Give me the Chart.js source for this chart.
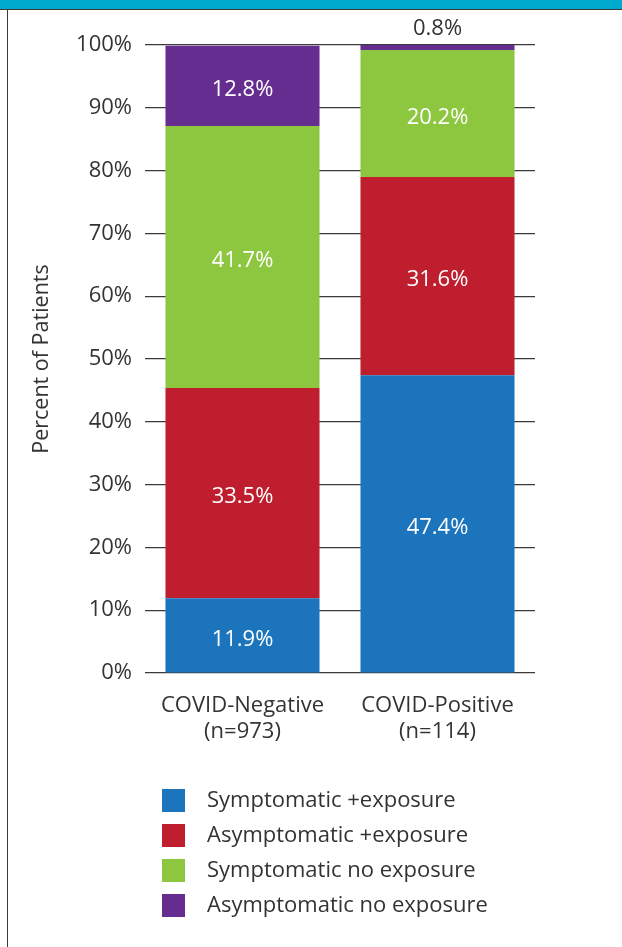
<!DOCTYPE html>
<html>
<head>
<meta charset="utf-8">
<script src="https://cdn.jsdelivr.net/npm/chart.js@4/dist/chart.umd.min.js"></script>
<style>
  html, body { margin: 0; padding: 0; background: #fff; }
  #wrap { position: relative; width: 622px; height: 947px; overflow: hidden; }
  #band { position: absolute; left: 0; top: 0; width: 622px; height: 9px; background: #00a9ce; border-bottom: 1px solid #3a3a3a; }
  #frame { position: absolute; left: 7px; top: 9px; width: 0; height: 938px; border-left: 1.5px solid #3a3a3a; }
  canvas { position: absolute; left: 0; top: 0; }
</style>
</head>
<body>
<div id="wrap">
  <canvas id="c" width="622" height="947"></canvas>
  <div id="band"></div>
  <div id="frame"></div>
</div>
<script>
// Groups and their sample sizes
const groups = [['COVID-Negative', '(n=973)'], ['COVID-Positive', '(n=114)']];

// Share of patients in each group (%)
const symptomaticExposure = [11.9, 47.4];
const asymptomaticExposure = [33.5, 31.6];
const symptomaticNoExposure = [41.7, 20.2];
const asymptomaticNoExposure = [12.8, 0.8];

const seriesNames = ['Symptomatic +exposure', 'Asymptomatic +exposure', 'Symptomatic no exposure', 'Asymptomatic no exposure'];
const seriesColors = ['#1c75bc', '#be1e2d', '#8dc63f', '#662d91'];
const seriesValues = [symptomaticExposure, asymptomaticExposure, symptomaticNoExposure, asymptomaticNoExposure];

const TEXT = '#333333';
const FONT = "'Open Sans', 'DejaVu Sans', sans-serif";

// Percent labels inside each segment; thin segments get the label above the bar
const segmentLabels = {
  id: 'segmentLabels',
  afterDatasetsDraw(chart) {
    const ctx = chart.ctx;
    ctx.save();
    ctx.font = '22px ' + FONT;
    ctx.textAlign = 'center';
    ctx.textBaseline = 'middle';
    chart.data.datasets.forEach((ds, di) => {
      const meta = chart.getDatasetMeta(di);
      meta.data.forEach((bar, i) => {
        const v = ds.data[i];
        const h = Math.abs(bar.base - bar.y);
        const txt = v.toFixed(1) + '%';
        if (h > 26) {
          ctx.fillStyle = '#ffffff';
          ctx.fillText(txt, bar.x, (bar.y + bar.base) / 2 + 4);
        } else {
          ctx.fillStyle = TEXT;
          ctx.fillText(txt, bar.x, bar.y - 16);
        }
      });
    });
    ctx.restore();
  }
};

// Vertical legend below the axis labels
const stackedLegend = {
  id: 'stackedLegend',
  afterDraw(chart) {
    const ctx = chart.ctx;
    ctx.save();
    ctx.font = '22px ' + FONT;
    ctx.textAlign = 'left';
    ctx.textBaseline = 'middle';
    chart.data.datasets.forEach((ds, i) => {
      const y = 800.5 + i * 35;
      ctx.fillStyle = ds.backgroundColor;
      ctx.fillRect(162, y - 11.5, 23, 23);
      ctx.fillStyle = TEXT;
      ctx.fillText(ds.label, 207, y);
    });
    ctx.restore();
  }
};

new Chart(document.getElementById('c'), {
  type: 'bar',
  data: {
    labels: groups,
    datasets: seriesNames.map((name, i) => ({
      label: name,
      data: seriesValues[i],
      backgroundColor: seriesColors[i],
      borderWidth: 0,
      categoryPercentage: 1,
      barPercentage: 0.79
    }))
  },
  options: {
    responsive: false,
    animation: false,
    devicePixelRatio: 1,
    layout: { padding: { left: 0, right: 87, top: 45, bottom: 194 } },
    plugins: { legend: { display: false }, tooltip: { enabled: false } },
    scales: {
      x: {
        stacked: true,
        grid: { display: false },
        border: { display: false },
        ticks: { color: TEXT, font: { family: FONT, size: 22, lineHeight: 1.18 }, padding: 12, maxRotation: 0 },
        afterFit(scale) { scale.height = 80; }
      },
      y: {
        stacked: true,
        min: 0,
        max: 100,
        grid: { color: '#3a3a3a', lineWidth: 1.2, drawTicks: false },
        border: { display: false },
        ticks: { stepSize: 10, color: TEXT, font: { family: FONT, size: 22 }, padding: 13, callback: v => v + '%' },
        title: { display: true, text: 'Percent of Patients', color: TEXT, font: { family: FONT, size: 21.5 }, padding: { top: 29, bottom: 0 } },
        afterFit(scale) { scale.width = 145; }
      }
    }
  },
  plugins: [segmentLabels, stackedLegend]
});
</script>
</body>
</html>
